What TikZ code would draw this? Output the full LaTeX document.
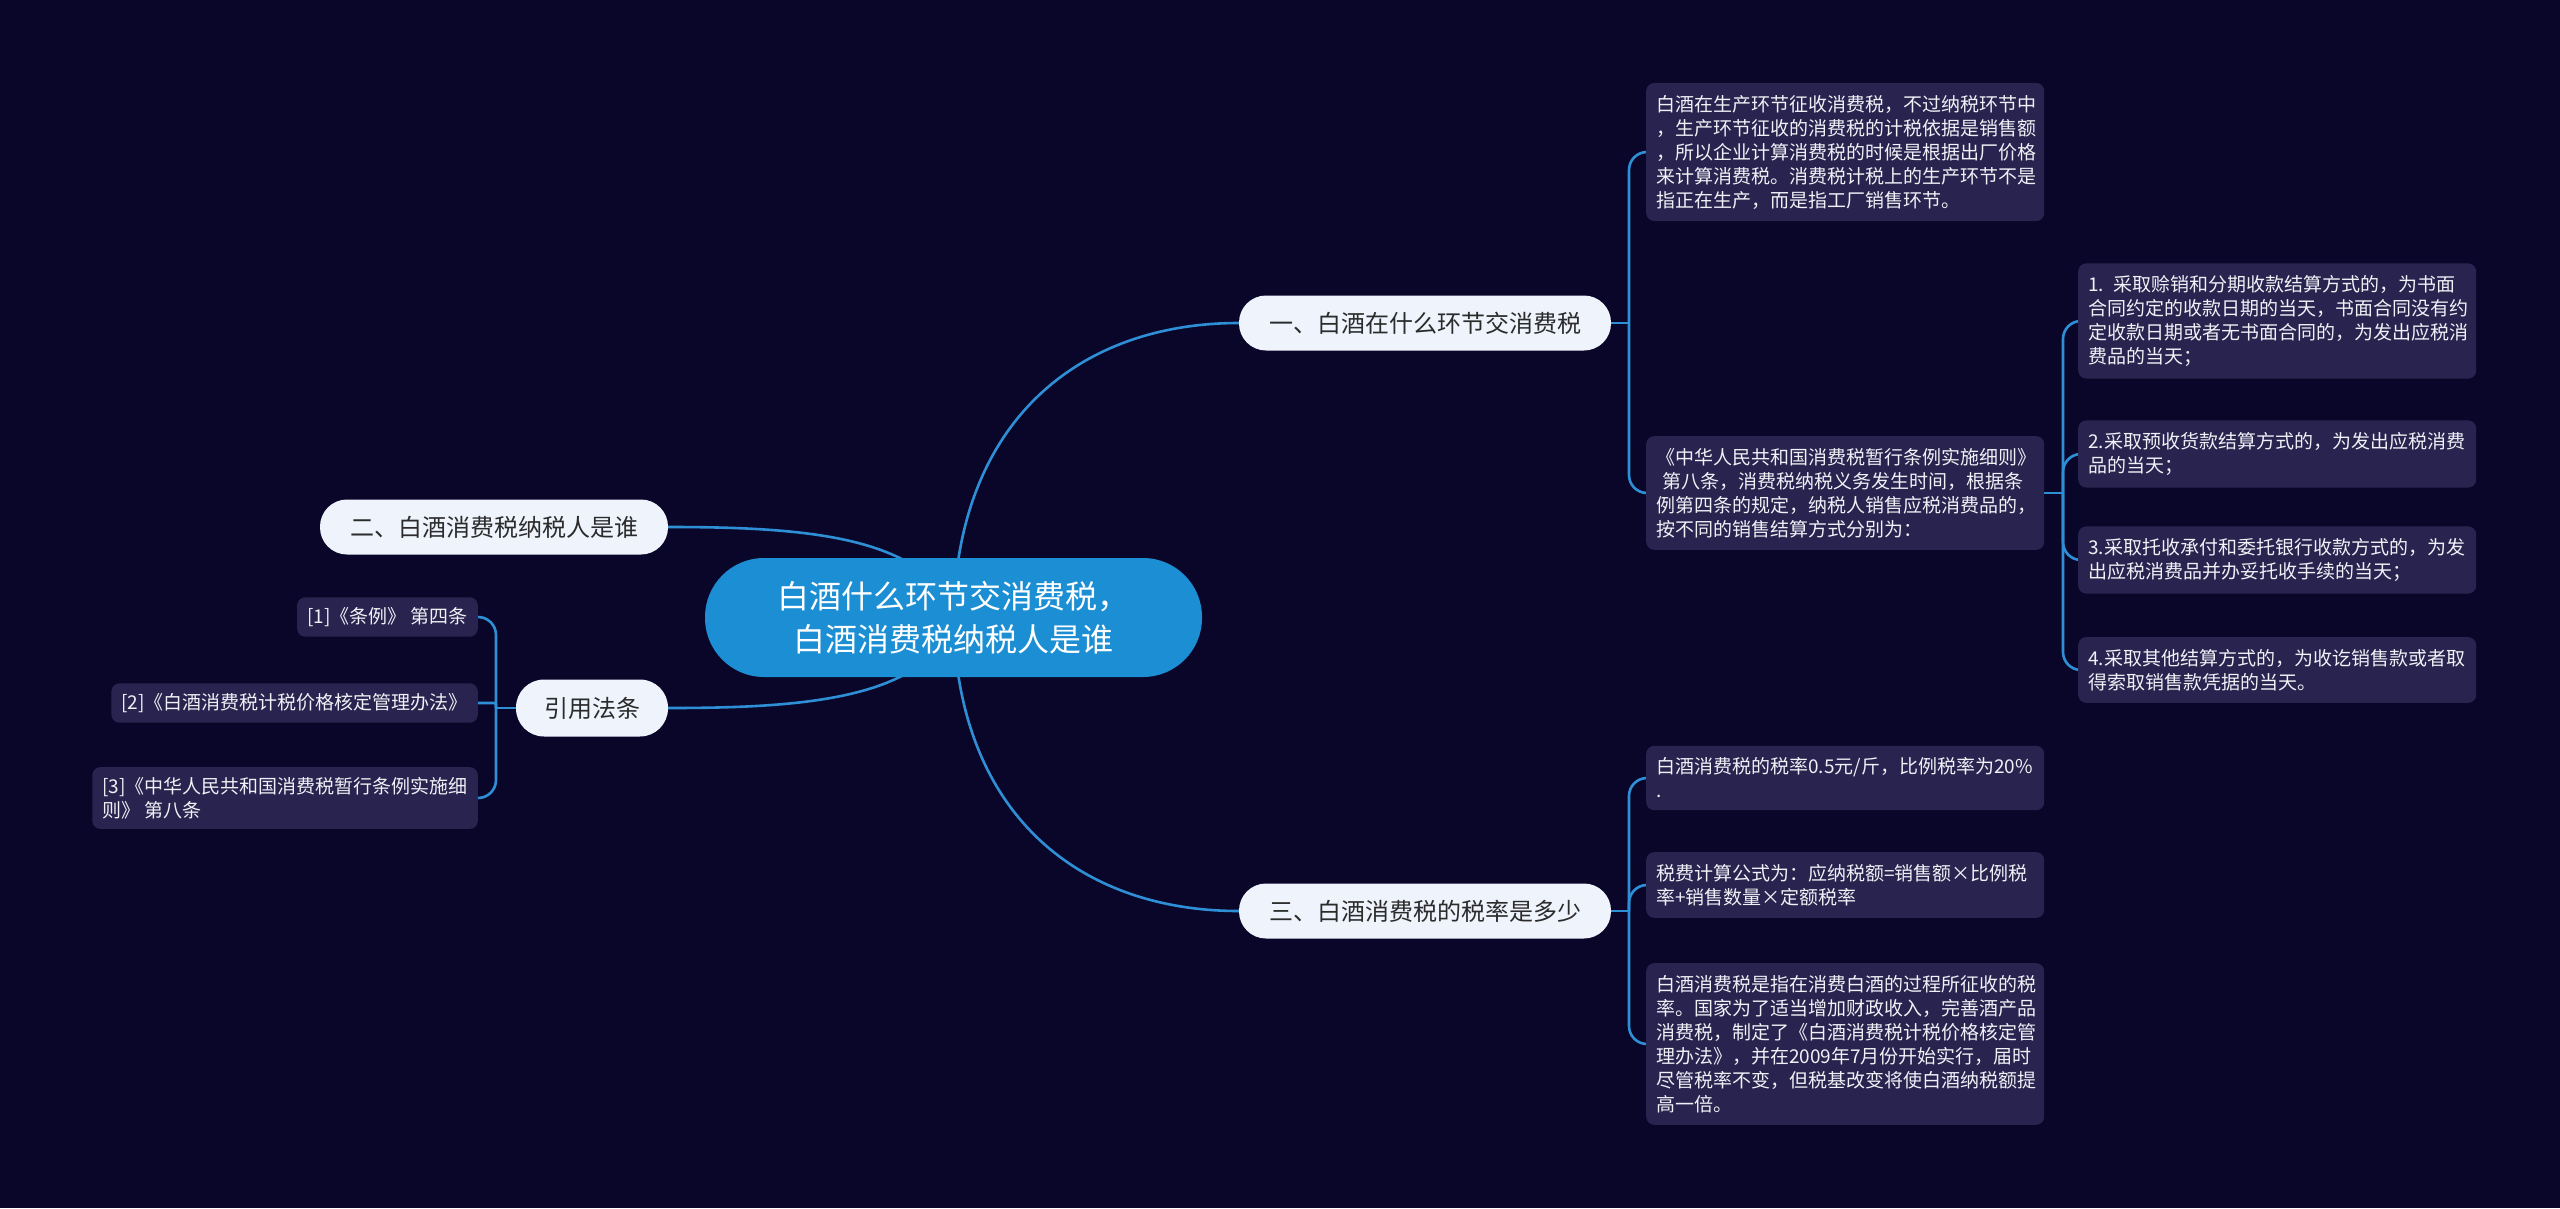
\documentclass[tikz,border=0pt]{standalone}
\usepackage{fontspec}
\setmainfont{Noto Sans CJK SC}
\definecolor{bgc}{HTML}{0A0629}
\definecolor{leafc}{HTML}{28244F}
\definecolor{lnk}{HTML}{2E8FD6}
\definecolor{rootc}{HTML}{1B8ED4}
\definecolor{lvlc}{HTML}{EEF3FC}
\definecolor{lvltext}{HTML}{2B2B2B}
\definecolor{leaftext}{HTML}{F0F0F6}
\pgfdeclarelayer{bglayer}
\pgfdeclarelayer{linklayer}
\pgfsetlayers{bglayer,linklayer,main}
\tikzset{
  link/.style={draw=lnk, line width=2.6pt},
  spine/.style={link, rounded corners=18pt},
  rootnode/.style={fill=rootc, text=white, rounded corners=59pt, minimum width=497pt, minimum height=119pt, align=center, inner sep=0pt, font=\fontsize{32}{43}\selectfont},
  lvlnode/.style={fill=lvlc, text=lvltext, rounded corners=27pt, minimum height=55pt, inner sep=0pt, font=\fontsize{24}{30}\selectfont},
  leafnode/.style={fill=leafc, text=leaftext, rounded corners=8pt, text width=378pt, inner xsep=10pt, inner ysep=12pt, align=left, font=\fontsize{19}{24}\selectfont},
  refnode/.style={fill=leafc, text=leaftext, rounded corners=8pt, inner xsep=10pt, inner ysep=10pt, align=left, font=\fontsize{19}{24}\selectfont}
}
\begin{document}
\begin{tikzpicture}[x=1pt, y=-1pt]
\begin{pgfonlayer}{bglayer}
\fill[bgc] (0,0) rectangle (2560,1208);
\end{pgfonlayer}
\useasboundingbox (0,0) rectangle (2560,1208);

% root
\node[rootnode] (root) at (953.5,617.5) {白酒什么环节交消费税，\\白酒消费税纳税人是谁};

% level 1
\node[lvlnode, minimum width=372pt] (one) at (1425,323) {一、白酒在什么环节交消费税};
\node[lvlnode, minimum width=372pt] (three) at (1425,911) {三、白酒消费税的税率是多少};
\node[lvlnode, minimum width=348pt] (two) at (494,527) {二、白酒消费税纳税人是谁};
\node[lvlnode, minimum width=152pt, minimum height=57pt, rounded corners=28pt] (cite) at (592,708) {引用法条};

% children of one
\node[leafnode, anchor=west] (a) at (1646,152) {白酒在生产环节征收消费税，不过纳税环节中\\，生产环节征收的消费税的计税依据是销售额\\，所以企业计算消费税的时候是根据出厂价格\\来计算消费税。消费税计税上的生产环节不是\\指正在生产，而是指工厂销售环节。};
\node[leafnode, anchor=west] (b) at (1646,493) {《中华人民共和国消费税暂行条例实施细则》\\\ 第八条，消费税纳税义务发生时间，根据条\\例第四条的规定，纳税人销售应税消费品的，\\按不同的销售结算方式分别为：};

% children of b
\node[leafnode, anchor=west] (b1) at (2078,321) {1. 采取赊销和分期收款结算方式的，为书面\\合同约定的收款日期的当天，书面合同没有约\\定收款日期或者无书面合同的，为发出应税消\\费品的当天；};
\node[leafnode, anchor=west] (b2) at (2078,454) {2.采取预收货款结算方式的，为发出应税消费\\品的当天；};
\node[leafnode, anchor=west] (b3) at (2078,560) {3.采取托收承付和委托银行收款方式的，为发\\出应税消费品并办妥托收手续的当天；};
\node[leafnode, anchor=west] (b4) at (2078,670) {4.采取其他结算方式的，为收讫销售款或者取\\得索取销售款凭据的当天。};

% children of three
\node[leafnode, anchor=west] (c1) at (1646,778) {白酒消费税的税率0.5元/斤，比例税率为20\%\\.};
\node[leafnode, anchor=west] (c2) at (1646,885) {税费计算公式为：应纳税额=销售额×比例税\\率+销售数量×定额税率};
\node[leafnode, anchor=west] (c3) at (1646,1044) {白酒消费税是指在消费白酒的过程所征收的税\\率。国家为了适当增加财政收入，完善酒产品\\消费税，制定了《白酒消费税计税价格核定管\\理办法》，并在2009年7月份开始实行，届时\\尽管税率不变，但税基改变将使白酒纳税额提\\高一倍。};

% citations
\node[refnode, anchor=east] (r1) at (478,617) {[1]《条例》 第四条};
\node[refnode, anchor=east] (r2) at (478,703) {[2]《白酒消费税计税价格核定管理办法》};
\node[refnode, anchor=east] (r3) at (478,798) {[3]《中华人民共和国消费税暂行条例实施细\\则》 第八条};

% spine coordinates
\coordinate (s1) at (1629,323);
\coordinate (s2) at (2063,493);
\coordinate (s3) at (1629,911);
\coordinate (s4) at (496,708);

\begin{pgfonlayer}{linklayer}
\draw[link] (root.center) .. controls (957,420) and (1080,323) .. (one.west);
\draw[link] (root.center) .. controls (957,815) and (1080,911) .. (three.west);
\draw[link] (root.center) .. controls (930,535) and (800,527) .. (two.east);
\draw[link] (root.center) .. controls (930,700) and (800,708) .. (cite.east);

\draw[link] (one.east) -- (s1);
\draw[spine] (s1) |- (a.west);
\draw[spine] (s1) |- (b.west);

\draw[link] (b.east) -- (s2);
\draw[spine] (s2) |- (b1.west);
\draw[spine] (s2) |- (b2.west);
\draw[spine] (s2) |- (b3.west);
\draw[spine] (s2) |- (b4.west);

\draw[link] (three.east) -- (s3);
\draw[spine] (s3) |- (c1.west);
\draw[spine] (s3) |- (c2.west);
\draw[spine] (s3) |- (c3.west);

\draw[link] (cite.west) -- (s4);
\draw[spine] (s4) |- (r1.east);
\draw[link, rounded corners=2pt] (s4) |- (r2.east);
\draw[spine] (s4) |- (r3.east);
\end{pgfonlayer}
\end{tikzpicture}
\end{document}
